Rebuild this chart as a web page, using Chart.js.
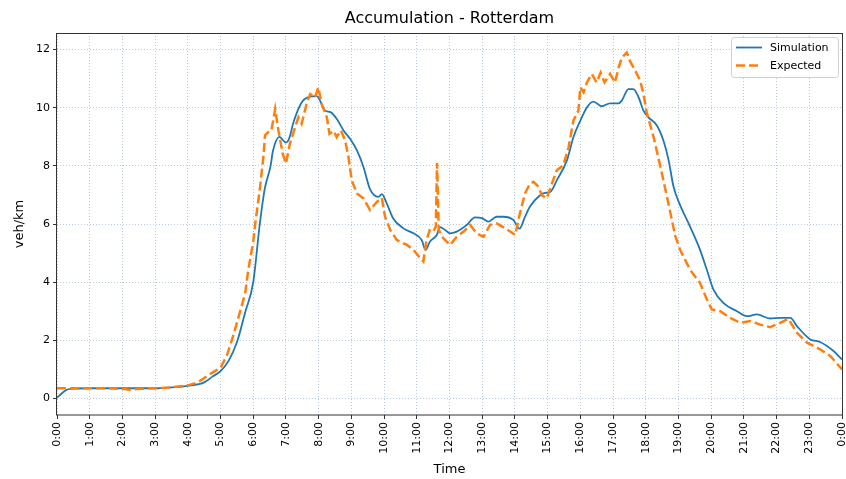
<!DOCTYPE html>
<html>
<head>
<meta charset="utf-8">
<title>Accumulation - Rotterdam</title>
<script src="https://cdn.jsdelivr.net/npm/chart.js@4.4.1/dist/chart.umd.min.js"></script>
<style>
  html, body { margin: 0; padding: 0; background: #fff; }
  #wrap { width: 846px; height: 479px; }
</style>
</head>
<body>
<div id="wrap"><canvas id="accChart" width="846" height="479"></canvas></div>
<script>
// Time of day in hours, and accumulation in veh/km
const simHours = [0, 0.15, 0.3, 0.5, 1, 2, 3, 3.5, 4, 4.5, 4.75, 5, 5.25, 5.5, 5.75, 6, 6.2, 6.35, 6.53, 6.6, 6.8, 7, 7.1,
  7.23, 7.48, 7.73, 7.94, 8.2, 8.36, 8.55, 8.76, 8.96, 9.17, 9.37, 9.57, 9.83, 9.93, 10.08, 10.28, 10.59, 10.9,
  11.15, 11.27, 11.4, 11.61, 11.71, 11.86, 12.02, 12.22, 12.53, 12.78, 12.99, 13.19, 13.44, 13.64, 13.95, 14.14,
  14.31, 14.46, 14.77, 14.92, 15.08, 15.28, 15.59, 15.79, 16, 16.2, 16.4, 16.65, 16.91, 17.17, 17.27, 17.47,
  17.62, 17.78, 17.93, 18.08, 18.34, 18.54, 18.7, 18.85, 19.05, 19.31, 19.66, 19.87, 20.07, 20.38, 20.79, 21.09,
  21.4, 21.8, 22.11, 22.42, 22.62, 23.03, 23.33, 23.74, 24];
const simValues = [0.03, 0.18, 0.3, 0.34, 0.35, 0.35, 0.35, 0.38, 0.43, 0.55, 0.75, 0.94, 1.3, 1.93, 2.95, 4.0, 6.0, 7.2, 8.0, 8.5, 9.0, 8.8, 8.95,
  9.5, 10.18, 10.38, 10.4, 9.9, 9.85, 9.62, 9.22, 8.93, 8.53, 7.96, 7.2, 6.93, 7.03, 6.71, 6.19, 5.85, 5.68,
  5.45, 5.11, 5.39, 5.62, 5.89, 5.8, 5.68, 5.74, 5.97, 6.23, 6.2, 6.08, 6.25, 6.25, 6.14, 5.84,
  6.25, 6.6, 6.99, 7.07, 7.1, 7.5, 8.19, 8.99, 9.56, 10.01, 10.21, 10.05, 10.15, 10.15, 10.25, 10.64,
  10.64, 10.36, 9.9, 9.67, 9.39, 8.87, 8.19, 7.28, 6.65, 6.02, 5.11, 4.42, 3.74, 3.28, 3.0, 2.83,
  2.89, 2.75, 2.77, 2.77, 2.49, 2.03, 1.94, 1.63, 1.34];

const expHours = [0, 1, 1.5, 2, 2.2, 2.5, 3, 3.5, 4, 4.3, 4.6, 4.8, 5, 5.2, 5.4, 5.6, 5.75, 5.85, 6, 6.05, 6.21, 6.31, 6.36,
  6.46, 6.55, 6.61, 6.67, 6.77, 6.9, 7, 7.12, 7.28, 7.38, 7.48, 7.63, 7.74, 7.89, 7.99, 8.09, 8.25, 8.33, 8.46,
  8.55, 8.68, 8.81, 8.91, 9.01, 9.17, 9.37, 9.57, 9.78, 9.93, 10.03, 10.19, 10.39, 10.7, 10.9, 11.1, 11.2, 11.3,
  11.41, 11.53, 11.58, 11.62, 11.67, 11.81, 12.02, 12.22, 12.43, 12.63, 12.83, 13.04, 13.24, 13.44, 13.75, 14.01,
  14.16, 14.31, 14.46, 14.57, 14.72, 14.82, 14.97, 15.13, 15.28, 15.48, 15.64, 15.79, 15.94, 16, 16.1, 16.2,
  16.35, 16.5, 16.62, 16.74, 16.91, 17.06, 17.17, 17.27, 17.42, 17.52, 17.68, 17.83, 17.93, 18.03, 18.24, 18.45,
  18.65, 18.9, 19.05, 19.36, 19.66, 19.87, 20.02, 20.28, 20.58, 20.89, 21.2, 21.5, 21.8, 22.11, 22.36, 22.62,
  22.93, 23.33, 23.64, 24];
const expValues = [0.35, 0.35, 0.35, 0.33, 0.3, 0.33, 0.35, 0.38, 0.45, 0.55, 0.78, 0.92, 1.05, 1.5, 2.2, 3.0, 3.6, 4.43, 5.4, 5.91, 7.28, 8.31, 9.05,
  9.16, 9.2, 9.56, 9.96, 9.22, 8.42, 8.08, 8.76, 9.33, 9.67, 9.45, 10.13, 10.47, 10.36, 10.7, 10.13, 9.67, 9.1, 9.2,
  8.99, 9.22, 8.87, 8.31, 7.5, 7.05, 6.88, 6.48, 6.76, 6.9, 6.25, 5.79, 5.45, 5.28, 5.11, 4.83, 4.71, 5.45,
  5.85, 5.8, 5.9, 8.1, 5.8, 5.51, 5.28, 5.56, 5.74, 5.97, 5.68, 5.56, 5.97, 6.02, 5.82, 5.62,
  6.4, 7.05, 7.39, 7.45, 7.28, 6.99, 6.88, 7.39, 7.85, 8.02, 8.64, 9.56, 9.9, 10.7, 10.53, 10.87,
  11.16, 10.87, 11.21, 10.87, 11.16, 10.87, 11.38, 11.72, 11.9, 11.6, 11.27, 10.93, 10.47, 9.84, 8.99, 7.96,
  6.93, 5.6, 5.11, 4.42, 3.97, 3.4, 3.06, 3.0, 2.77, 2.6, 2.66, 2.54, 2.45, 2.6, 2.74, 2.26,
  1.92, 1.69, 1.46, 1.0];

const yTicks = [0, 2, 4, 6, 8, 10, 12];
const chartTitle = 'Accumulation - Rotterdam';

const FONT = "'DejaVu Sans', sans-serif";
const BLUE = '#1f77b4';
const ORANGE = '#ff7f0e';
const GRID = 'rgba(176, 196, 222, 0.9)';
const AXIS = '#333';

const toPoints = (xs, ys) => xs.map((x, i) => ({ x: x, y: ys[i] }));

// title centred over the plot area, plus a box frame around it
const framePlugin = {
  id: 'frame',
  afterDatasetsDraw(chart) {
    const { ctx, chartArea: a } = chart;
    ctx.save();
    ctx.strokeStyle = AXIS;
    ctx.lineWidth = 1;
    ctx.strokeRect(Math.round(a.left) - 0.5, Math.round(a.top) + 0.5,
      Math.round(a.right - a.left) + 1, Math.round(a.bottom - a.top) - 0.5);
    ctx.fillStyle = '#000';
    ctx.font = '16px ' + FONT;
    ctx.textAlign = 'center';
    ctx.textBaseline = 'middle';
    ctx.fillText(chartTitle, (a.left + a.right) / 2, 19);
    ctx.restore();
  }
};

// legend box in the upper right corner
const legendPlugin = {
  id: 'cornerLegend',
  afterDraw(chart) {
    const { ctx, chartArea: a } = chart;
    const w = 107, h = 40;
    const x = a.right - 4 - w, y = a.top + 4;
    ctx.save();
    ctx.fillStyle = 'rgba(255,255,255,0.85)';
    ctx.strokeStyle = '#d0d0d0';
    ctx.lineWidth = 1;
    ctx.beginPath();
    ctx.roundRect(x + 0.5, y + 0.5, w, h, 3);
    ctx.fill();
    ctx.stroke();

    const rows = [
      { label: 'Simulation', color: BLUE, width: 1.8, dash: [] },
      { label: 'Expected', color: ORANGE, width: 2.5, dash: [9, 4] }
    ];
    ctx.font = '11px ' + FONT;
    ctx.textBaseline = 'middle';
    rows.forEach((r, i) => {
      const ly = y + 10.5 + i * 18;
      ctx.beginPath();
      ctx.setLineDash(r.dash);
      ctx.strokeStyle = r.color;
      ctx.lineWidth = r.width;
      ctx.moveTo(x + 5, ly);
      ctx.lineTo(x + 31, ly);
      ctx.stroke();
      ctx.setLineDash([]);
      ctx.fillStyle = '#000';
      ctx.fillText(r.label, x + 39, ly + 0.5);
    });
    ctx.restore();
  }
};

const gridOpts = {
  color: GRID,
  lineWidth: 1,
  drawTicks: true,
  tickLength: 4,
  tickColor: AXIS,
  tickWidth: 1,
  tickBorderDash: []
};

new Chart(document.getElementById('accChart'), {
  type: 'line',
  data: {
    datasets: [
      {
        label: 'Simulation',
        data: toPoints(simHours, simValues),
        borderColor: BLUE,
        borderWidth: 1.8,
        pointRadius: 0,
        cubicInterpolationMode: 'monotone',
        fill: false,
        order: 2
      },
      {
        label: 'Expected',
        data: toPoints(expHours, expValues),
        borderColor: ORANGE,
        borderWidth: 2.5,
        borderDash: [9, 4],
        pointRadius: 0,
        tension: 0,
        fill: false,
        order: 1
      }
    ]
  },
  options: {
    responsive: false,
    animation: false,
    layout: { padding: { left: 0, right: 4, top: 33, bottom: 0 } },
    plugins: {
      legend: { display: false },
      tooltip: { enabled: false },
      title: { display: false }
    },
    scales: {
      x: {
        type: 'linear',
        min: 0,
        max: 24,
        afterFit(scale) {
          scale.height = 64;
          scale.paddingLeft = 0;
          scale.paddingRight = 0;
        },
        ticks: {
          stepSize: 1,
          autoSkip: false,
          minRotation: 90,
          maxRotation: 90,
          padding: 3,
          color: '#000',
          font: { family: FONT, size: 11 },
          callback: (v) => (v % 24) + ':00'
        },
        grid: gridOpts,
        border: { display: false, dash: [1, 2] },
        title: {
          display: true,
          text: 'Time',
          color: '#000',
          font: { family: FONT, size: 13 },
          padding: { top: 0, bottom: 2 }
        }
      },
      y: {
        min: -0.57,
        max: 12.57,
        afterFit(scale) {
          scale.width = 57;
          scale.paddingTop = 0;
          scale.paddingBottom = 0;
        },
        ticks: {
          stepSize: 2,
          includeBounds: false,
          padding: 3,
          color: '#000',
          font: { family: FONT, size: 11 },
          callback: (v) => (yTicks.includes(v) ? String(v) : '')
        },
        grid: gridOpts,
        border: { display: false, dash: [1, 2] },
        title: {
          display: true,
          text: 'veh/km',
          color: '#000',
          font: { family: FONT, size: 13 },
          padding: { top: 12, bottom: 0 }
        }
      }
    }
  },
  plugins: [framePlugin, legendPlugin]
});
</script>
</body>
</html>
